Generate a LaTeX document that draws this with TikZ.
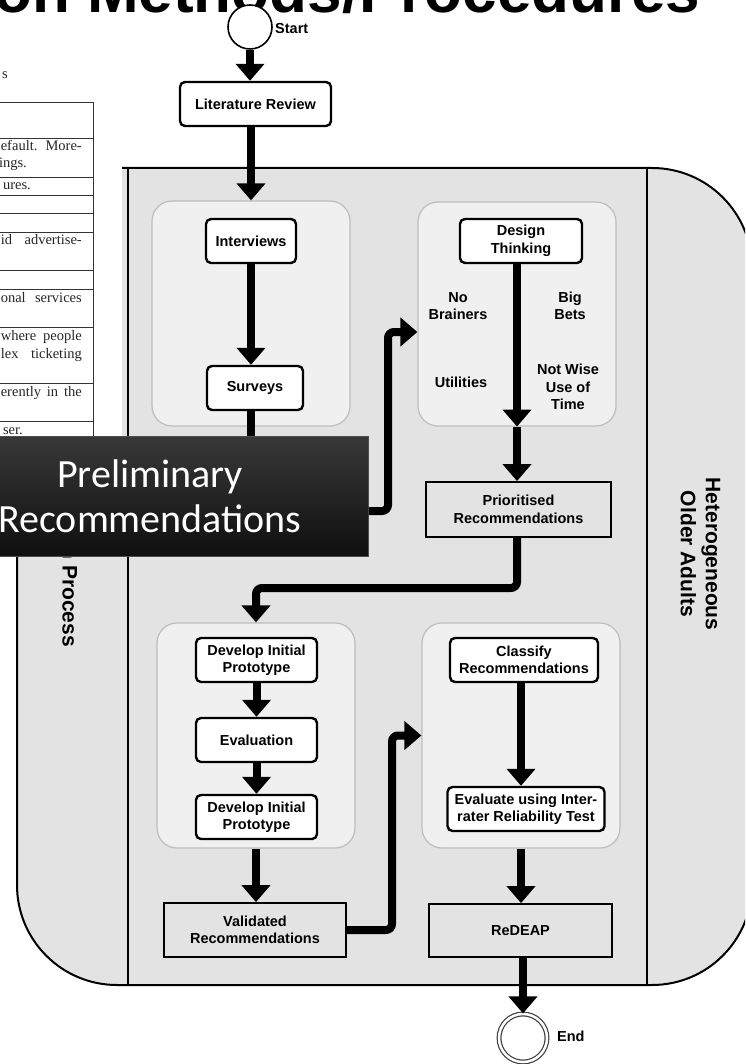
\documentclass[tikz,border=0pt]{standalone}
\usepackage{fontspec}
\setmainfont{Liberation Sans}
\newfontfamily\hvfont{Liberation Sans}
\newfontfamily\tmsfont{Liberation Serif}
\newfontfamily\calfont{Carlito}
\usetikzlibrary{arrows.meta}
\definecolor{poolgray}{HTML}{E3E3E3}
\definecolor{grpfill}{HTML}{F0F0F0}
\definecolor{grpline}{HTML}{BDBDBD}
\newcommand\boxfont{\hvfont\bfseries\fontsize{14.5}{17.5}\selectfont}
\newcommand\lanefont{\hvfont\bfseries\fontsize{21}{25}\selectfont}
\newcommand\jline[1]{\makebox[81pt][s]{#1}}
\begin{document}
\begin{tikzpicture}[x=1pt,y=-1pt,
  proc/.style={draw=black, line width=2.4pt, fill=white, rounded corners=5pt, inner sep=0pt, font=\boxfont, align=center},
  rec/.style={draw=black, line width=1.8pt, fill=poolgray, inner sep=0pt, font=\boxfont, align=center},
  grp/.style={draw=grpline, line width=1.2pt, fill=grpfill, rounded corners=20pt, inner sep=0pt},
  flow/.style={line width=8pt, -{Triangle[width=28pt,length=17pt]}},
  plain/.style={font=\boxfont, align=center, inner sep=0pt},
  tab/.style={font=\tmsfont\fontsize{14.5}{18}\selectfont, text=black!85, inner sep=0pt}
]
\useasboundingbox (0,0) rectangle (745,1064);
\clip (0,0) rectangle (745,1064);

% clipped slide title (behind everything)
\node[anchor=base west, font=\hvfont\bfseries\fontsize{62}{62}\selectfont, inner sep=0pt] (title) at (-6,13) {on Methods/Procedures};

% pool with lanes
\filldraw[fill=poolgray, draw=black, line width=2pt, rounded corners=100pt]
  (17,168) -- (752,168) -- (752,985) -- (17,985) -- cycle;
\draw[line width=2.4pt] (128,168) -- (128,985);
\draw[line width=2.4pt] (647,168) -- (647,985);
\node[rotate=-90, font=\lanefont, inner sep=0pt] (lanel) at (68,568) {Design Process};
\node[rotate=-90, font=\lanefont, align=center, inner sep=0pt] (laner) at (700.5,554) {Heterogeneous\\Older Adults};

% groups
\node[grp, minimum width=198pt, minimum height=225pt] (gint) at (251,313.5) {};
\node[grp, minimum width=198pt, minimum height=224pt] (gdes) at (517,314) {};
\node[grp, minimum width=198pt, minimum height=225pt] (gdev) at (256,735.5) {};
\node[grp, minimum width=198pt, minimum height=225pt] (gcls) at (521,735.5) {};

% start / end
\node[circle, draw=black, line width=1.6pt, fill=white, minimum size=44pt, inner sep=0pt] (start) at (250,27) {};
\node[anchor=west, font=\boxfont, inner sep=0pt] (startlbl) at (275,29) {Start};
\node[circle, draw=black!75, line width=1.2pt, double=white, double distance=2.5pt, minimum size=48pt, inner sep=0pt] (end) at (523,1038) {};
\node[anchor=west, font=\boxfont, inner sep=0pt] (endlbl) at (557,1036) {End};

% process boxes
\node[proc, minimum width=151pt, minimum height=44pt] (lit) at (255.5,104) {Literature Review};
\node[proc, minimum width=90pt, minimum height=44pt] (int) at (251,241) {Interviews};
\node[proc, minimum width=96pt, minimum height=44pt] (srv) at (255,388) {Surveys};
\node[proc, minimum width=122pt, minimum height=44pt] (dt) at (521,241) {Design\\Thinking};
\node[proc, minimum width=121pt, minimum height=44pt] (dev1) at (256.5,660) {Develop Initial\\Prototype};
\node[proc, minimum width=121pt, minimum height=44pt] (eval) at (256.5,740) {Evaluation};
\node[proc, minimum width=121pt, minimum height=44pt] (dev2) at (256.5,817) {Develop Initial\\Prototype};
\node[proc, minimum width=148pt, minimum height=44pt] (cls) at (524,660) {Classify\\Recommendations};
\node[proc, minimum width=157pt, minimum height=44pt] (evr) at (526,809) {Evaluate using Inter-\\rater Reliability Test};

% result boxes
\node[rec, minimum width=185pt, minimum height=55pt] (prio) at (518.5,509.5) {Prioritised\\Recommendations};
\node[rec, minimum width=182pt, minimum height=54pt] (val) at (255,930) {Validated\\Recommendations};
\node[rec, minimum width=183pt, minimum height=53pt] (red) at (520.5,930.5) {ReDEAP};

% quadrant labels
\node[plain] (qa) at (458,306) {No\\Brainers};
\node[plain] (qb) at (570,306) {Big\\Bets};
\node[plain] (qc) at (461,382) {Utilities};
\node[plain] (qd) at (568,387) {Not Wise\\Use of\\Time};

% connectors
\draw[flow] (start.south) -- (start.south |- lit.north);
\draw[flow] (lit.south -| gint.north) -- (gint.north);
\draw[flow] (int.south) -- (int.south |- srv.north);
\draw[flow] (gdes.south |- dt.south) -- (gdes.south);
\draw[flow] (gdes.south) -- (gdes.south |- prio.north);
\coordinate (k1) at (0,588);
\draw[flow, rounded corners=6pt] (prio.south -| gdes.south) |- (k1 -| gdev.north) -- (gdev.north);
\draw[flow] (dev1.south) -- (eval.north);
\draw[flow] (eval.south) -- (dev2.north);
\draw[flow] (gdev.south) -- (gdev.south |- val.north);
\coordinate (k2) at (392,0);
\draw[flow, rounded corners=6pt] (val.east) -| (k2 |- gcls.west) -- (gcls.west);
\draw[flow] (cls.south -| gcls.center) -- (gcls.center |- evr.north);
\draw[flow] (gcls.south) -- (gcls.south |- red.north);
\draw[flow] (end |- red.south) -- (end.north);

% overlaid table fragment
\fill[white] (0,40) rectangle (122,436);
\node[tab, anchor=base east] (t0) at (8,79) {s};
\foreach \yy in {102,138,177,195,213,232,270,289,327,383,421}
  \draw[line width=0.9pt, black!80] (-5,\yy) -- (93,\yy);
\draw[line width=0.9pt, black!80] (93,102) -- (93,436);
\node[tab, anchor=base east] (t1) at (82,151) {\jline{efault. More-}};
\node[tab, anchor=base east] (t2) at (27,168) {ings.};
\node[tab, anchor=base east] (t3) at (31,190) {ures.};
\node[tab, anchor=base east] (t4) at (82,245) {\jline{id advertise-}};
\node[tab, anchor=base east] (t5) at (82,302) {\jline{onal services}};
\node[tab, anchor=base east] (t6) at (82,340) {\jline{where people}};
\node[tab, anchor=base east] (t7) at (82,358) {\jline{lex ticketing}};
\node[tab, anchor=base east] (t8) at (82,396) {\jline{erently in the}};
\node[tab, anchor=base east] (t9) at (23,434) {ser.};

% overlaid dark caption box
\node[minimum width=437pt, minimum height=120pt, inner sep=0pt, draw=black!70, line width=0.8pt,
  top color=black!78, bottom color=black!94, text=white!94,
  font=\calfont\fontsize{40}{45}\selectfont, align=center] (prelim) at (150,496)
  {\raisebox{-3pt}{Preliminary}\\\raisebox{-3pt}{Recommendations}};
\draw[line width=8pt] (srv.south -| int.south) -- (int.south |- prelim.north);
\coordinate (k3) at (388,332);
\draw[flow, rounded corners=6pt] (prelim.east |- 0,511) -| (k3) -- (k3 -| gdes.west);
\end{tikzpicture}
\end{document}
